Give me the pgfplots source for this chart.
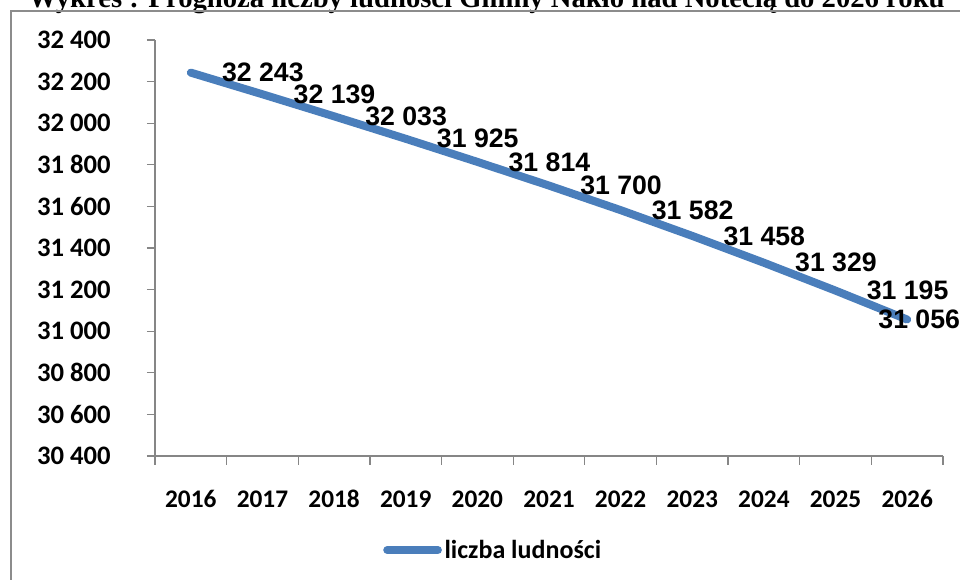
\documentclass[border=0pt]{standalone}
\usepackage{pgfplots}
\pgfplotsset{compat=1.18}
\usepackage{fontspec}
\setmainfont{Carlito}
\newfontfamily\arialf{Liberation Sans}
\newfontfamily\timesf{Liberation Serif}
\definecolor{linecol}{HTML}{4A7EBB}
\definecolor{axgray}{HTML}{868686}
\definecolor{framegray}{HTML}{8C8C8C}
\begin{document}
\begin{tikzpicture}
\useasboundingbox (0,0) rectangle (720pt,435pt);
\clip (0,0) rectangle (720pt,435pt);
\node[anchor=base west, font=\timesf\bfseries\fontsize{21.5}{21.5}\selectfont, inner sep=0pt] at (21pt,429.5pt) {Wykres : Prognoza liczby ludności Gminy Nakło nad Notecią do 2026 roku};
\draw[framegray, line width=1.5pt] (8.25pt,0) -- (8.25pt,426.75pt) -- (721pt,426.75pt);
\begin{axis}[
  at={(116.25pt,93pt)}, anchor=south west,
  scale only axis, width=591pt, height=312pt,
  xmin=-0.5, xmax=10.5, ymin=30400, ymax=32400,
  scaled y ticks=false,
  axis x line*=bottom, axis y line*=left,
  axis line style={-, axgray, line width=1pt},
  tick align=outside,
  major tick length=6pt, minor tick length=6.5pt,
  tick style={axgray, line width=1pt},
  xtick={0,...,10},
  xticklabels={2016,2017,2018,2019,2020,2021,2022,2023,2024,2025,2026},
  major x tick style={draw=none},
  minor xtick={-0.5,0.5,...,10.5},
  ytick={30400,30600,...,32400},
  yticklabels={30 400,30 600,30 800,31 000,31 200,31 400,31 600,31 800,32 000,32 200,32 400},
  yticklabel style={anchor=east, inner sep=0pt, xshift=-27pt, font=\bfseries\fontsize{20}{20}\selectfont},
  xticklabel style={anchor=base, inner sep=0pt, yshift=-33pt, font=\bfseries\fontsize{19}{19}\selectfont},
  legend style={at={(0.2893,-0.226)}, anchor=west, draw=none, fill=none, inner sep=0pt,
    font=\bfseries\fontsize{19.5}{19.5}\selectfont,
    /tikz/every even column/.append style={column sep=0pt}},
  legend image code/.code={\draw[line width=6pt, line cap=round, linecol] (3pt,0pt) -- (41pt,0pt);},
  clip=false,
]
\addplot[linecol, line width=6pt, line cap=round, line join=round, mark=none]
  table[x=x, y=y] {
x y
0 32243
1 32139
2 32033
3 31925
4 31814
5 31700
6 31582
7 31458
8 31329
9 31195
10 31056
};
\addlegendentry{liczba ludności}
\addplot[draw=none, mark=none, forget plot,
  point meta=explicit symbolic,
  nodes near coords,
  nodes near coords style={anchor=west, xshift=23.25pt, inner sep=0pt, black,
    font=\arialf\bfseries\fontsize{20}{20}\selectfont}]
  table[x=x, y=y, meta=l, col sep=comma] {
x,y,l
0,32243,32 243
1,32139,32 139
2,32033,32 033
3,31925,31 925
4,31814,31 814
5,31700,31 700
6,31582,31 582
7,31458,31 458
8,31329,31 329
9,31195,31 195
};
\addplot[draw=none, mark=none, forget plot,
  point meta=explicit symbolic,
  nodes near coords,
  nodes near coords style={anchor=west, xshift=-21.75pt, inner sep=0pt, black,
    font=\arialf\bfseries\fontsize{20}{20}\selectfont}]
  table[x=x, y=y, meta=l, col sep=comma] {
x,y,l
10,31056,31 056
};
\end{axis}
\end{tikzpicture}
\end{document}
